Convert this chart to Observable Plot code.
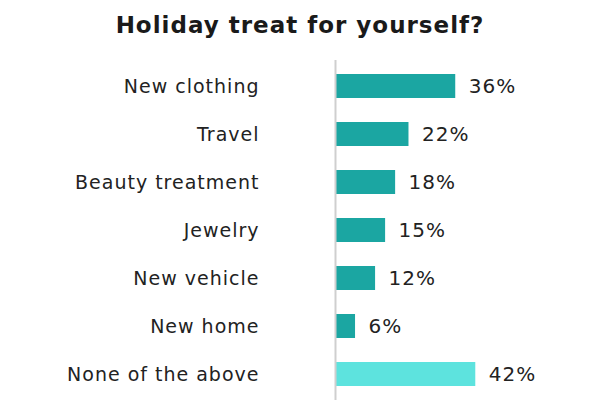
<!DOCTYPE html>
<html>
<head>
<meta charset="utf-8">
<script src="https://cdn.jsdelivr.net/npm/d3@7"></script>
<script src="https://cdn.jsdelivr.net/npm/@observablehq/plot@0.6"></script>
<style>
  html, body { margin: 0; padding: 0; background: #fff; }
  #title { height: 50px; width: 600px; text-align: center; font-family: "DejaVu Sans", sans-serif; font-weight: 700; font-size: 23px; letter-spacing: 1px; color: #1a1a1a; line-height: 50px; }
  #chart svg { display: block; }
  #chart svg text { letter-spacing: 1px; }
</style>
</head>
<body>
<div id="title">Holiday treat for yourself?</div>
<div id="chart"></div>
<script>
const categories = ["New clothing", "Travel", "Beauty treatment", "Jewelry", "New vehicle", "New home", "None of the above"];
const values = [36, 22, 18, 15, 12, 6, 42];
const groups = ["treat", "treat", "treat", "treat", "treat", "treat", "none"];

const data = categories.map((c, i) => ({category: c, value: values[i], group: groups[i]}));

const chart = Plot.plot({
  width: 600,
  height: 350,
  marginLeft: 335,
  marginRight: 98,
  marginTop: 10,
  marginBottom: 0,
  style: {fontFamily: "DejaVu Sans, sans-serif", background: "#fff"},
  x: {domain: [0, 50], axis: null},
  y: {domain: categories, paddingInner: 0.49, paddingOuter: 0.2285, label: null},
  color: {domain: ["treat", "none"], range: ["#1ba6a2", "#5de3de"]},
  marks: [
    Plot.axisY({tickSize: 0, tickPadding: 76, fontSize: 19, color: "#222", label: null}),
    Plot.barX(data, {y: "category", x: "value", fill: "group"}),
    Plot.ruleX([0], {stroke: "#cfcfcf", strokeWidth: 2}),
    Plot.text(data, {y: "category", x: "value", text: d => d.value + "%", textAnchor: "start", dx: 13, fontSize: 20, fill: "#222"})
  ]
});
document.getElementById("chart").appendChild(chart);
</script>
</body>
</html>
